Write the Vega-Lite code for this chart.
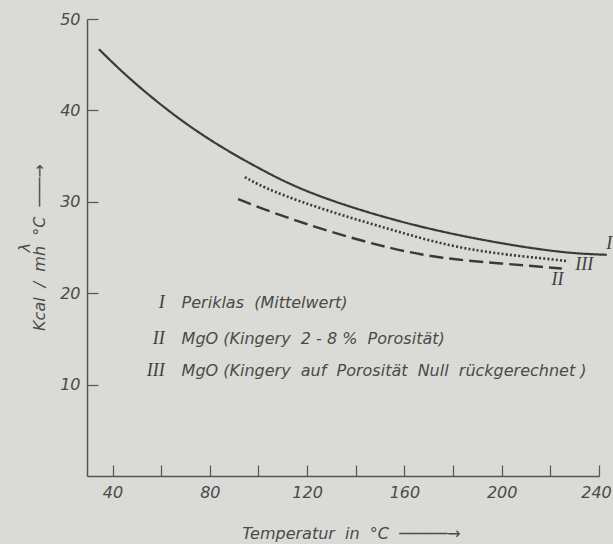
{
  "$schema": "https://vega.github.io/schema/vega-lite/v6.json",
  "width": 512,
  "height": 457,
  "autosize": {"type": "none"},
  "padding": {"left": 87, "top": 19, "right": 14, "bottom": 68},
  "background": "#dadbd6",
  "config": {"view": {"stroke": null}, "font": "DejaVu Sans"},
  "datasets": {
    "curves": [
      {"curve": "I", "t": 34.4, "v": 46.7},
      {"curve": "I", "t": 44.3, "v": 44.1},
      {"curve": "I", "t": 58.1, "v": 40.95},
      {"curve": "I", "t": 71.8, "v": 38.2},
      {"curve": "I", "t": 85.5, "v": 35.85},
      {"curve": "I", "t": 99.2, "v": 33.8},
      {"curve": "I", "t": 112.9, "v": 31.9},
      {"curve": "I", "t": 129.3, "v": 30.15},
      {"curve": "I", "t": 154.0, "v": 28.1},
      {"curve": "I", "t": 178.7, "v": 26.5},
      {"curve": "I", "t": 202.0, "v": 25.35},
      {"curve": "I", "t": 215.6, "v": 24.8},
      {"curve": "I", "t": 229.4, "v": 24.35},
      {"curve": "I", "t": 243.2, "v": 24.2},
      {"curve": "II", "t": 91.6, "v": 30.3},
      {"curve": "II", "t": 104.7, "v": 28.9},
      {"curve": "II", "t": 129.4, "v": 26.7},
      {"curve": "II", "t": 154.0, "v": 24.9},
      {"curve": "II", "t": 174.6, "v": 23.8},
      {"curve": "II", "t": 202.0, "v": 23.2},
      {"curve": "II", "t": 215.7, "v": 22.9},
      {"curve": "II", "t": 224.7, "v": 22.7},
      {"curve": "III", "t": 94.4, "v": 32.7},
      {"curve": "III", "t": 104.7, "v": 31.2},
      {"curve": "III", "t": 129.4, "v": 28.9},
      {"curve": "III", "t": 154.0, "v": 27.0},
      {"curve": "III", "t": 178.7, "v": 25.1},
      {"curve": "III", "t": 202.0, "v": 24.2},
      {"curve": "III", "t": 215.7, "v": 23.85},
      {"curve": "III", "t": 227.4, "v": 23.5}
    ],
    "legend": [
      {"num": "I", "desc": "Periklas\u00a0 (Mittelwert)", "v": 18.9},
      {"num": "II", "desc": "MgO (Kingery\u00a0 2 - 8 %\u00a0 Porosität)", "v": 15.0},
      {"num": "III", "desc": "MgO (Kingery\u00a0 auf\u00a0 Porosität\u00a0 Null\u00a0 rückgerechnet\u00a0)", "v": 11.5}
    ],
    "labels": [
      {"label": "I", "t": 243, "v": 25.4},
      {"label": "II", "t": 220.5, "v": 21.4},
      {"label": "III", "t": 230.2, "v": 23.1}
    ]
  },
  "layer": [
    {
      "data": {"name": "curves"},
      "mark": {"type": "line", "interpolate": "basis", "color": "#3a3a3a", "strokeCap": "butt"},
      "encoding": {
        "x": {
          "field": "t", "type": "quantitative",
          "scale": {"domain": [29.5, 240], "nice": false, "zero": false},
          "axis": {
            "values": [40, 60, 80, 100, 120, 140, 160, 180, 200, 220, 240],
            "labelExpr": "datum.value % 40 == 0 ? datum.label : ''",
            "grid": false,
            "tickSize": -11,
            "tickColor": "#555555",
            "tickWidth": 1.2,
            "domainColor": "#555555",
            "domainWidth": 1.5,
            "labelFontSize": 16,
            "labelFontStyle": "italic",
            "labelColor": "#4a4a4a",
            "labelPadding": 19,
            "labelFlush": false,
            "labelOffset": {"condition": {"test": "datum.value == 240", "value": -3}, "value": 0},
            "title": "Temperatur\u00a0 in\u00a0 °C\u00a0 ─────→",
            "titleFontSize": 16,
            "titleFontStyle": "italic",
            "titleFontWeight": "normal",
            "titleColor": "#4a4a4a",
            "titleX": 264,
            "titleY": 57,
            "titleAlign": "center",
            "titleBaseline": "middle"
          }
        },
        "y": {
          "field": "v", "type": "quantitative",
          "scale": {"domain": [0, 50], "nice": false},
          "axis": {
            "values": [10, 20, 30, 40, 50],
            "grid": false,
            "tickSize": -11,
            "tickColor": "#555555",
            "tickWidth": 1.2,
            "domainColor": "#555555",
            "domainWidth": 1.5,
            "labelFontSize": 16,
            "labelFontStyle": "italic",
            "labelColor": "#4a4a4a",
            "labelPadding": 18,
            "title": ["λ", "Kcal\u00a0 /\u00a0 mh\u00a0 °C\u00a0 ───→"],
            "titleFontSize": 16,
            "titleFontStyle": "italic",
            "titleFontWeight": "normal",
            "titleColor": "#4a4a4a",
            "titleLineHeight": 15,
            "titleAngle": -90,
            "titleX": -63,
            "titleY": 228,
            "titleAlign": "center",
            "titleBaseline": "middle"
          }
        },
        "detail": {"field": "curve"},
        "strokeDash": {
          "field": "curve", "type": "nominal",
          "scale": {"domain": ["I", "II", "III"], "range": [[1, 0], [14, 6], [2, 2.2]]},
          "legend": null
        },
        "strokeWidth": {
          "field": "curve", "type": "nominal",
          "scale": {"domain": ["I", "II", "III"], "range": [2.2, 2.6, 2.2]},
          "legend": null
        }
      }
    },
    {
      "data": {"name": "legend"},
      "mark": {"type": "text", "align": "right", "baseline": "middle", "font": "Liberation Serif", "fontStyle": "italic", "fontSize": 18, "color": "#3f3f3f"},
      "encoding": {
        "x": {"datum": 61.5, "type": "quantitative"},
        "y": {"field": "v", "type": "quantitative"},
        "text": {"field": "num"}
      }
    },
    {
      "data": {"name": "legend"},
      "mark": {"type": "text", "align": "left", "baseline": "middle", "fontStyle": "italic", "fontSize": 16, "color": "#4a4a4a"},
      "encoding": {
        "x": {"datum": 68.4, "type": "quantitative"},
        "y": {"field": "v", "type": "quantitative"},
        "text": {"field": "desc"}
      }
    },
    {
      "data": {"name": "labels"},
      "mark": {"type": "text", "align": "left", "baseline": "middle", "font": "Liberation Serif", "fontStyle": "italic", "fontSize": 18, "color": "#3f3f3f"},
      "encoding": {
        "x": {"field": "t", "type": "quantitative"},
        "y": {"field": "v", "type": "quantitative"},
        "text": {"field": "label"}
      }
    }
  ]
}
